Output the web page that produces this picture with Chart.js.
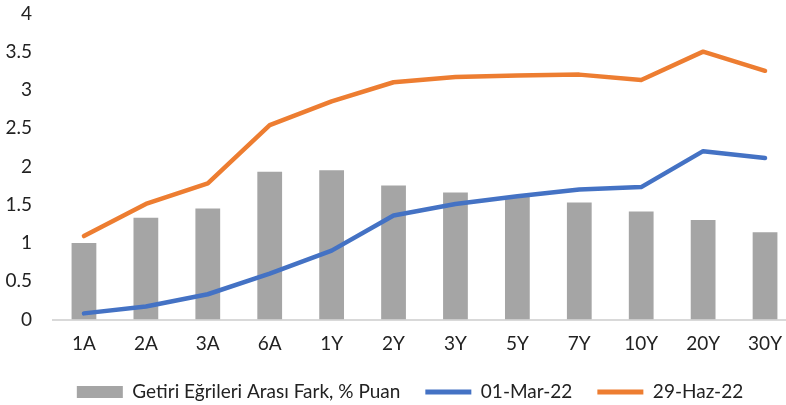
<!DOCTYPE html>
<html>
<head>
<meta charset="utf-8">
<script src="https://cdn.jsdelivr.net/npm/chart.js@4"></script>
<style>
  body { margin: 0; overflow: hidden; background: #fff; }
  #wrap { width: 800px; height: 405px; }
</style>
</head>
<body>
<div id="wrap"><canvas id="curveChart"></canvas></div>
<script>
const tenors = ["1A", "2A", "3A", "6A", "1Y", "2Y", "3Y", "5Y", "7Y", "10Y", "20Y", "30Y"];
const spread = [1.00, 1.33, 1.45, 1.93, 1.95, 1.75, 1.66, 1.60, 1.53, 1.41, 1.30, 1.14];
const mar22 = [0.08, 0.17, 0.33, 0.60, 0.90, 1.36, 1.51, 1.61, 1.70, 1.73, 2.20, 2.11];
const haz22 = [1.09, 1.51, 1.78, 2.54, 2.85, 3.10, 3.17, 3.19, 3.20, 3.13, 3.50, 3.25];
const yTicks = [0, 0.5, 1, 1.5, 2, 2.5, 3, 3.5, 4];

const fontFamily = "Lato, 'Open Sans', sans-serif";
const textColor = "#222222";

// legend sits a bit right of centre in the original
const legendShift = {
    id: "legendShift",
    afterLayout: function (chart) {
        chart.legend.left += 10;
        chart.legend.right += 10;
    }
};

document.addEventListener("DOMContentLoaded", function () {
    const ctx = document.getElementById("curveChart").getContext("2d");

    new Chart(ctx, {
        data: {
            labels: tenors,
            datasets: [{
                type: "bar",
                label: "Getiri Eğrileri Arası Fark, % Puan",
                data: spread,
                backgroundColor: "#a5a5a5",
                barPercentage: 0.4,
                categoryPercentage: 1,
                order: 3
            }, {
                type: "line",
                label: "01-Mar-22",
                data: mar22,
                borderColor: "#4472c4",
                backgroundColor: "#4472c4",
                borderWidth: 4.5,
                borderCapStyle: "round",
                borderJoinStyle: "round",
                pointRadius: 0,
                tension: 0,
                order: 2
            }, {
                type: "line",
                label: "29-Haz-22",
                data: haz22,
                borderColor: "#ed7d31",
                backgroundColor: "#ed7d31",
                borderWidth: 4.5,
                borderCapStyle: "round",
                borderJoinStyle: "round",
                pointRadius: 0,
                tension: 0,
                order: 1
            }]
        },
        plugins: [legendShift],
        options: {
            responsive: true,
            maintainAspectRatio: false,
            animation: false,
            layout: {
                padding: { left: 4, right: 4, top: 0, bottom: -6.5 }
            },
            plugins: {
                tooltip: { enabled: false },
                legend: {
                    position: "bottom",
                    labels: {
                        font: { family: fontFamily, size: 19 },
                        color: textColor,
                        usePointStyle: true,
                        pointStyleWidth: 46,
                        boxHeight: 12,
                        padding: 25,
                        sort: (a, b) => a.datasetIndex - b.datasetIndex,
                        generateLabels: function (chart) {
                            const items = Chart.defaults.plugins.legend.labels.generateLabels(chart);
                            items.forEach(function (item) {
                                if (item.datasetIndex === 0) {
                                    item.pointStyle = "rect";
                                    item.lineWidth = 0;
                                } else {
                                    item.pointStyle = "line";
                                    item.lineWidth = 5;
                                }
                            });
                            return items;
                        }
                    }
                }
            },
            scales: {
                x: {
                    grid: { display: false, drawTicks: false },
                    border: { display: true, color: "#d9d9d9", width: 2 },
                    ticks: {
                        font: { family: fontFamily, size: 19 },
                        color: textColor,
                        padding: 13
                    },
                    afterFit: function (scale) { scale.height = 38; }
                },
                y: {
                    min: 0,
                    max: 4,
                    afterBuildTicks: function (scale) {
                        scale.ticks = yTicks.map(v => ({ value: v }));
                    },
                    grid: { display: false, drawTicks: true, tickLength: 19 },
                    border: { display: false },
                    ticks: {
                        font: { family: fontFamily, size: 19 },
                        color: textColor,
                        padding: 2,
                        callback: v => String(v)
                    },
                    afterFit: function (scale) { scale.width = 49; }
                }
            }
        }
    });
});
</script>
</body>
</html>
